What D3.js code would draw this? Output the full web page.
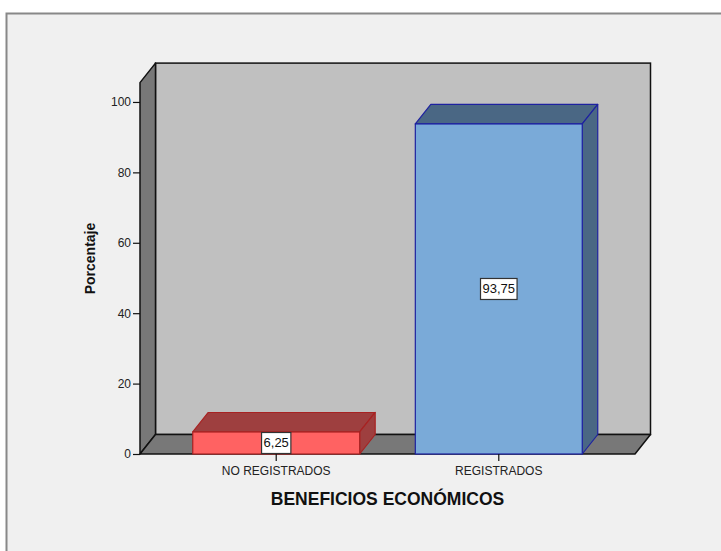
<!DOCTYPE html>
<html>
<head>
<meta charset="utf-8">
<script src="https://cdn.jsdelivr.net/npm/d3@7"></script>
<style>
  body { margin: 0; background: #fff; }
  svg text { font-family: "Liberation Sans", Arial, sans-serif; }
</style>
</head>
<body>
<svg id="chart" width="721" height="551"></svg>
<script>
// data
const categories = ['NO REGISTRADOS', 'REGISTRADOS'];
const values = [6.25, 93.75];
const valueLabels = ['6,25', '93,75'];
const yTicks = [0, 20, 40, 60, 80, 100];
const xTitle = 'BENEFICIOS ECONÓMICOS';
const yTitle = 'Porcentaje';

const fronts = ['#ff6262', '#7aaad8'];
const shades = ['#9e3f3f', '#4a6784'];
const edges = ['#a82222', '#1e22a0'];

const svg = d3.select('#chart');

// outer panel
svg.append('rect')
  .attr('x', 6.5).attr('y', 13.5)
  .attr('width', 720).attr('height', 545)
  .attr('fill', '#f0f0f0')
  .attr('stroke', '#888').attr('stroke-width', 2);

// depth offset of the 3D box
const dx = 15.5, dy = -19.5;

const y = d3.scaleLinear().domain([0, 105.5]).range([454, 82.6]);
const x = d3.scaleBand().domain(categories).range([140, 635])
  .paddingInner(0.25).paddingOuter(0.237);

const x0 = 140, x1 = 635, yb = y(0), yt = y(105.5);

// back wall
svg.append('rect')
  .attr('x', x0 + dx).attr('y', yt + dy)
  .attr('width', x1 - x0).attr('height', yb - yt)
  .attr('fill', '#c0c0c0').attr('stroke', '#111').attr('stroke-width', 1.5);

// left wall
svg.append('path')
  .attr('d', `M${x0},${yt}L${x0 + dx},${yt + dy}L${x0 + dx},${yb + dy}L${x0},${yb}Z`)
  .attr('fill', '#787878').attr('stroke', '#111').attr('stroke-width', 1.5)
  .attr('stroke-linejoin', 'round');

// floor
svg.append('path')
  .attr('d', `M${x0},${yb}L${x0 + dx},${yb + dy}L${x1 + dx},${yb + dy}L${x1},${yb}Z`)
  .attr('fill', '#787878').attr('stroke', '#111').attr('stroke-width', 1.5)
  .attr('stroke-linejoin', 'round');

// bars
const bars = svg.append('g').selectAll('g')
  .data(values)
  .join('g');

bars.each(function (v, i) {
  const g = d3.select(this);
  const bx = x(categories[i]);
  const bw = x.bandwidth();
  const top = y(v);
  // top face
  g.append('path')
    .attr('d', `M${bx},${top}L${bx + dx},${top + dy}L${bx + bw + dx},${top + dy}L${bx + bw},${top}Z`)
    .attr('fill', shades[i]).attr('stroke', edges[i]).attr('stroke-width', 1.2)
    .attr('stroke-linejoin', 'round');
  // right side
  g.append('path')
    .attr('d', `M${bx + bw},${top}L${bx + bw + dx},${top + dy}L${bx + bw + dx},${yb + dy}L${bx + bw},${yb}Z`)
    .attr('fill', shades[i]).attr('stroke', edges[i]).attr('stroke-width', 1.2)
    .attr('stroke-linejoin', 'round');
  // front
  g.append('rect')
    .attr('x', bx).attr('y', top)
    .attr('width', bw).attr('height', yb - top)
    .attr('fill', fronts[i]).attr('stroke', edges[i]).attr('stroke-width', 1.2);
});

// y axis
const yAxis = svg.append('g')
  .attr('transform', `translate(${x0},0)`)
  .call(d3.axisLeft(y).tickValues(yTicks).tickSize(7).tickPadding(2));
yAxis.select('.domain').remove();
yAxis.selectAll('line').attr('stroke', '#111').attr('stroke-width', 1.2);
yAxis.selectAll('text')
  .attr('font-size', 12).attr('fill', '#222')
  .attr('font-family', '"Liberation Sans", Arial, sans-serif');

// x axis
const xAxis = svg.append('g')
  .attr('transform', `translate(0,${yb})`)
  .call(d3.axisBottom(x).tickSize(7).tickPadding(5));
xAxis.select('.domain').remove();
xAxis.selectAll('line').attr('stroke', '#111').attr('stroke-width', 1.2);
xAxis.selectAll('text')
  .attr('font-size', 12).attr('fill', '#222')
  .attr('font-family', '"Liberation Sans", Arial, sans-serif')
  .attr('dy', null).attr('y', 21);

// value labels
bars.each(function (v, i) {
  const g = d3.select(this);
  const cx = x(categories[i]) + x.bandwidth() / 2;
  const cy = (y(v) + yb) / 2;
  const t = g.append('text')
    .attr('x', cx).attr('y', cy + 4.5)
    .attr('text-anchor', 'middle')
    .attr('font-size', 13).attr('fill', '#111')
    .text(valueLabels[i]);
  const w = t.node().getComputedTextLength() + 4;
  g.insert('rect', 'text')
    .attr('x', cx - w / 2).attr('y', cy - 10.5)
    .attr('width', w).attr('height', 21)
    .attr('fill', '#fff').attr('stroke', '#333').attr('stroke-width', 1.2);
});

// titles
svg.append('text')
  .attr('x', 387.5).attr('y', 505)
  .attr('text-anchor', 'middle')
  .attr('font-size', 17.5).attr('font-weight', 'bold').attr('fill', '#111')
  .text(xTitle);

svg.append('text')
  .attr('transform', 'translate(95,258.5) rotate(-90)')
  .attr('text-anchor', 'middle')
  .attr('font-size', 14).attr('font-weight', 'bold').attr('fill', '#111')
  .text(yTitle);
</script>
</body>
</html>
